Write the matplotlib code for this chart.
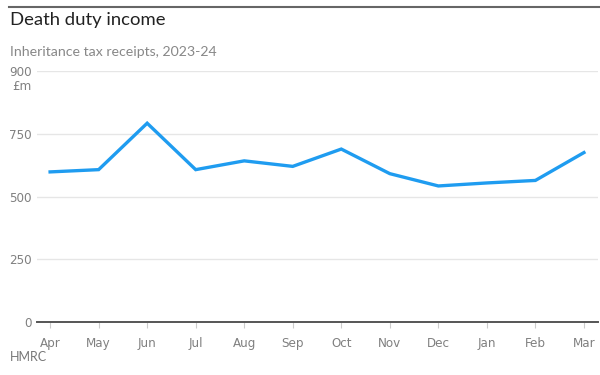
import matplotlib
matplotlib.use("Agg")
import matplotlib.pyplot as plt
from matplotlib import font_manager

# monthly inheritance tax receipts, £m
months = ["Apr", "May", "Jun", "Jul", "Aug", "Sep", "Oct", "Nov", "Dec", "Jan", "Feb", "Mar"]
receipts = [598, 607, 792, 607, 642, 620, 689, 591, 542, 554, 564, 675]
ytick_pos = [0, 250, 500, 750, 1000]
ytick_labels = ["0", "250", "500", "750", "900"]

fig = plt.figure(figsize=(6, 3.75), dpi=100)
ax = fig.add_axes([37/600, 1-322/375, 561/600, 251/375])

x = range(len(months))
ax.plot(x, receipts, color="#1f9cf0", lw=2.4, solid_joinstyle="miter", zorder=3)

ax.set_ylim(0, 1000)
ax.set_xlim(-0.27, 11.29)
ax.set_yticks(ytick_pos)
ax.set_yticklabels(ytick_labels)
ax.set_xticks(list(x))
ax.set_xticklabels(months)

# condensed face for the axis text
condfont = font_manager.FontProperties(family="DejaVu Sans", stretch="condensed", size=9.5)
for lab in ax.get_yticklabels() + ax.get_xticklabels():
    lab.set_fontproperties(condfont)
    lab.set_color("#808080")

ax.grid(axis="y", color="#e6e6e6", lw=1)
ax.set_axisbelow(True)
for s in ["top", "right", "left"]:
    ax.spines[s].set_visible(False)
ax.spines["bottom"].set_color("#555555")
ax.spines["bottom"].set_linewidth(1.4)
ax.tick_params(axis="y", length=0, pad=4)
ax.tick_params(axis="x", length=4, color="#cccccc", pad=7)

# header and footer
fig.add_artist(plt.Line2D([0.015, 1], [1-7/375, 1-7/375], color="#666666", lw=1.5))
fig.text(10/600, 1-20/375, "Death duty income", fontsize=13.3, family="Lato",
         color="#222222", va="center")
fig.text(10/600, 1-52/375, "Inheritance tax receipts, 2023-24", fontsize=10.2,
         family="Lato", color="#888888", va="center")
fig.text(12/600, 1-86/375, "£m", fontproperties=condfont, color="#808080", va="center")
fig.text(10/600, 1-357/375, "HMRC", fontsize=9, family="Lato", color="#777777", va="center")

fig.savefig("out.png", dpi=100)
